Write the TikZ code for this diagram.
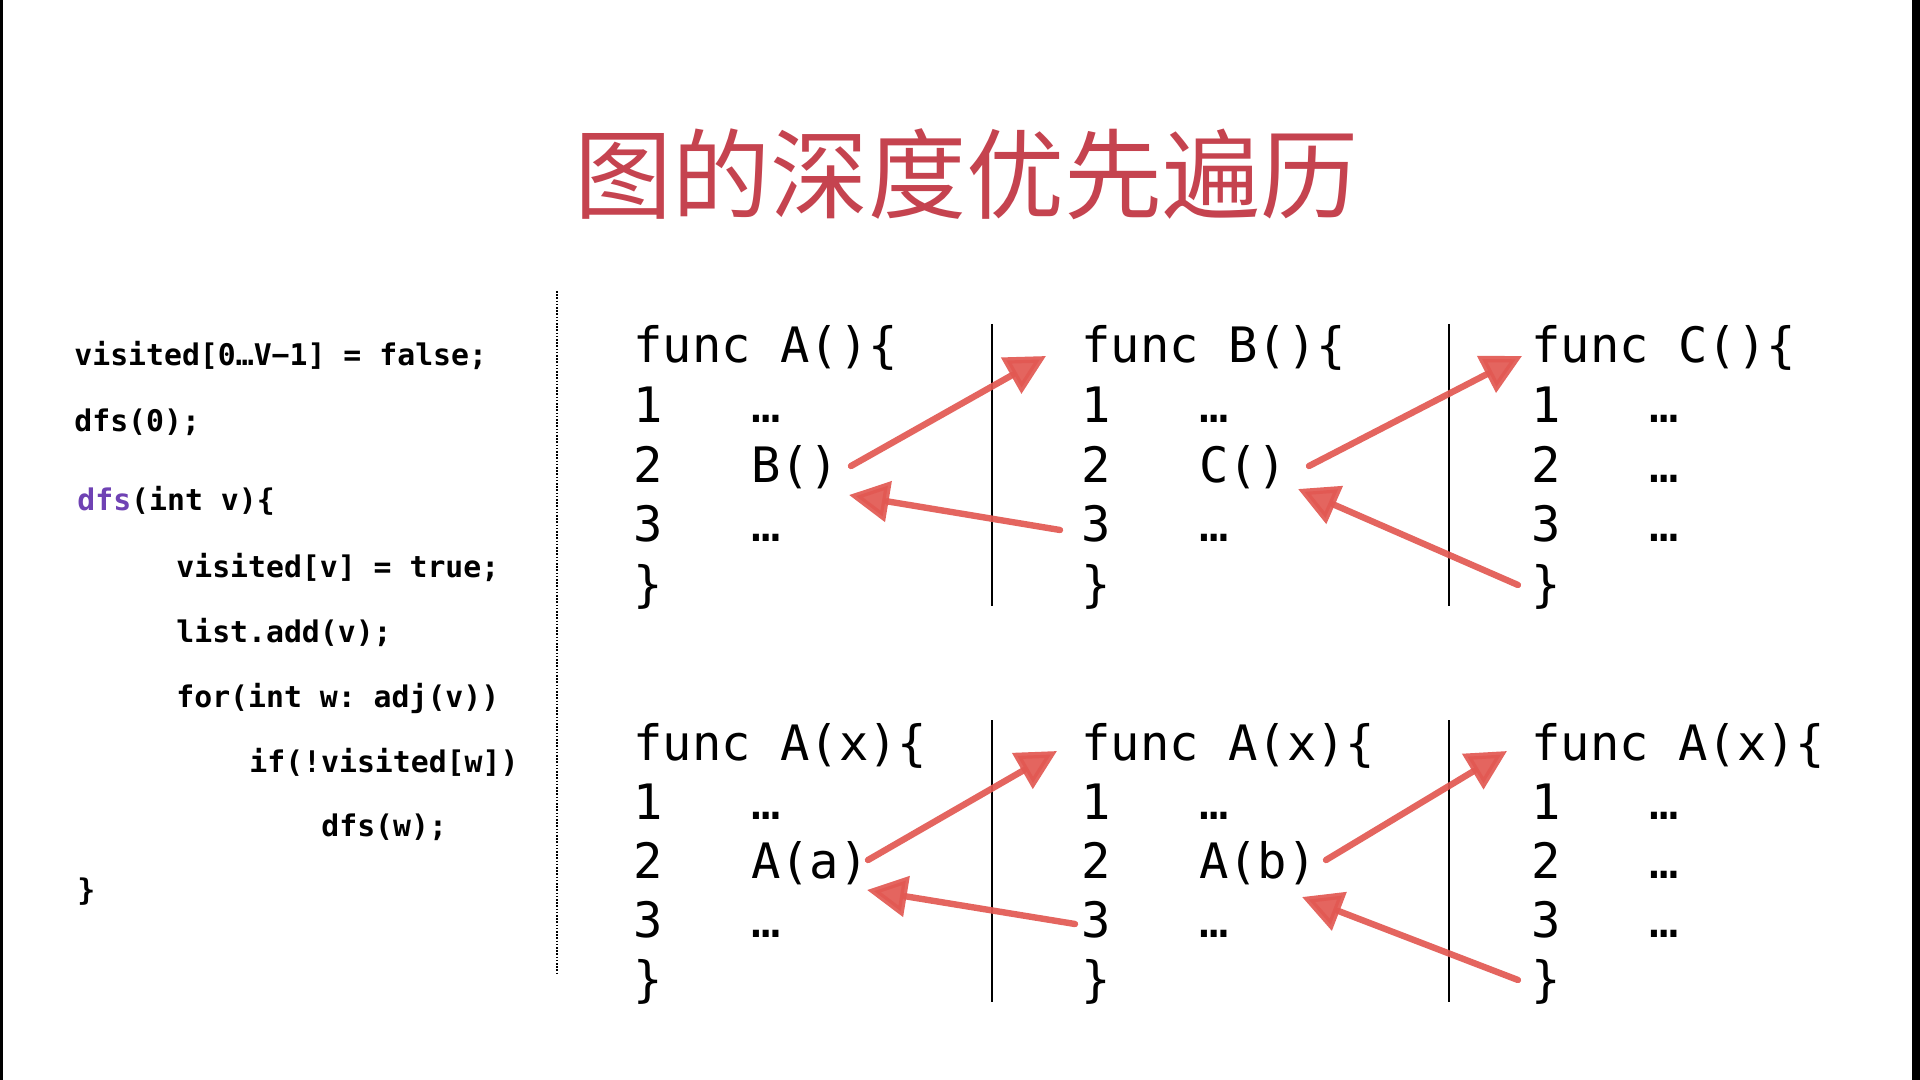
\documentclass[tikz,border=0pt]{standalone}
\usepackage{fontspec}
\setmonofont{DejaVu Sans Mono}
\newfontfamily\cjk{Noto Sans CJK SC}
\usetikzlibrary{arrows.meta}
\definecolor{titlered}{RGB}{197,67,79}
\definecolor{arrowred}{RGB}{226,88,82}
\definecolor{dfspurple}{RGB}{111,66,180}
\newcommand{\fnblock}[6]{%
  % #1 name, #2 x, #3 baseline y, #4 header, #5 line-2 content, #6 line spacing
  \node[fn] (#1h) at (#2,#3) {#4};
  \node[fn] (#1n1) at (#2,#3+#6) {1};
  \node[fn] (#1c1) at (#2+117.6,#3+#6) {…};
  \node[fn] (#1n2) at (#2,#3+2*#6) {2};
  \node[fn] (#1c2) at (#2+117.6,#3+2*#6) {#5};
  \node[fn] (#1n3) at (#2,#3+3*#6) {3};
  \node[fn] (#1c3) at (#2+117.6,#3+3*#6) {…};
  \node[fn] (#1e) at (#2,#3+4*#6) {\}};
}
\begin{document}
\begin{tikzpicture}[x=0.5pt,y=-0.5pt,
  code/.style={inner sep=0pt, anchor=base west, font=\ttfamily\bfseries\fontsize{14.9}{18}\selectfont},
  fn/.style={inner sep=0pt, anchor=base west, font=\ttfamily\fontsize{24.4}{29}\selectfont},
  sepline/.style={draw=black, line width=0.6pt},
  dotline/.style={draw=black, line width=0.7pt, dash pattern=on 0.8pt off 0.8pt},
  call/.style={draw=arrowred, opacity=0.92, line width=3.2pt, line cap=round,
    -{Triangle[length=20pt,width=20pt]}}
]
\useasboundingbox (0,0) rectangle (1920,1080);
\fill[white] (0,0) rectangle (1920,1080);
\fill[black] (0,0) rectangle (3,1080);
\fill[black] (1912,0) rectangle (1920,1080);

% title
\node[font=\cjk\fontsize{49}{56}\selectfont, text=titlered, anchor=base, inner sep=0pt]
  (title) at (966,212) {图的深度优先遍历};

% left code
\node[code] (l1) at (74,365) {visited[0…V−1] = false;};
\node[code] (l2) at (74,431) {dfs(0);};
\node[code] (l3) at (77,510) {\textcolor{dfspurple}{dfs}(int v)\{};
\node[code] (l4) at (176,577) {visited[v] = true;};
\node[code] (l5) at (176,642) {list.add(v);};
\node[code] (l6) at (176,707) {for(int w: adj(v))};
\node[code] (l7) at (249,772) {if(!visited[w])};
\node[code] (l8) at (321,836) {dfs(w);};
\node[code] (l9) at (77,900) {\}};

% separators
\coordinate (d1) at (557,291);
\coordinate (d2) at (557,973);
\draw[dotline] (d1) -- (d2);
\coordinate (s1a) at (992,324);  \coordinate (s1b) at (992,606);
\coordinate (s2a) at (1449,324); \coordinate (s2b) at (1449,606);
\coordinate (s3a) at (992,720);  \coordinate (s3b) at (992,1002);
\coordinate (s4a) at (1449,720); \coordinate (s4b) at (1449,1002);
\draw[sepline] (s1a) -- (s1b);
\draw[sepline] (s2a) -- (s2b);
\draw[sepline] (s3a) -- (s3b);
\draw[sepline] (s4a) -- (s4b);

% function blocks
\fnblock{A}{633}{363}{func A()\{}{B()}{59.5}
\fnblock{B}{1081}{363}{func B()\{}{C()}{59.5}
\fnblock{C}{1531}{363}{func C()\{}{…}{59.5}
\fnblock{P}{633}{760}{func A(x)\{}{A(a)}{59}
\fnblock{Q}{1081}{760}{func A(x)\{}{A(b)}{59}
\fnblock{R}{1531}{760}{func A(x)\{}{…}{59}

% arrow end points
\coordinate (t1s) at (851,466);  \coordinate (t1e) at (1046,356);
\coordinate (t2s) at (1060,530); \coordinate (t2e) at (849,495);
\coordinate (t3s) at (1309,466); \coordinate (t3e) at (1522,356);
\coordinate (t4s) at (1518,585); \coordinate (t4e) at (1298,489);
\coordinate (b1s) at (868,860);  \coordinate (b1e) at (1057,751);
\coordinate (b2s) at (1075,924); \coordinate (b2e) at (867,890);
\coordinate (b3s) at (1326,860); \coordinate (b3e) at (1507,751);
\coordinate (b4s) at (1518,980); \coordinate (b4e) at (1302,897);

\draw[call] (t1s) -- (t1e);
\draw[call] (t2s) -- (t2e);
\draw[call] (t3s) -- (t3e);
\draw[call] (t4s) -- (t4e);
\draw[call] (b1s) -- (b1e);
\draw[call] (b2s) -- (b2e);
\draw[call] (b3s) -- (b3e);
\draw[call] (b4s) -- (b4e);
\end{tikzpicture}
\end{document}
